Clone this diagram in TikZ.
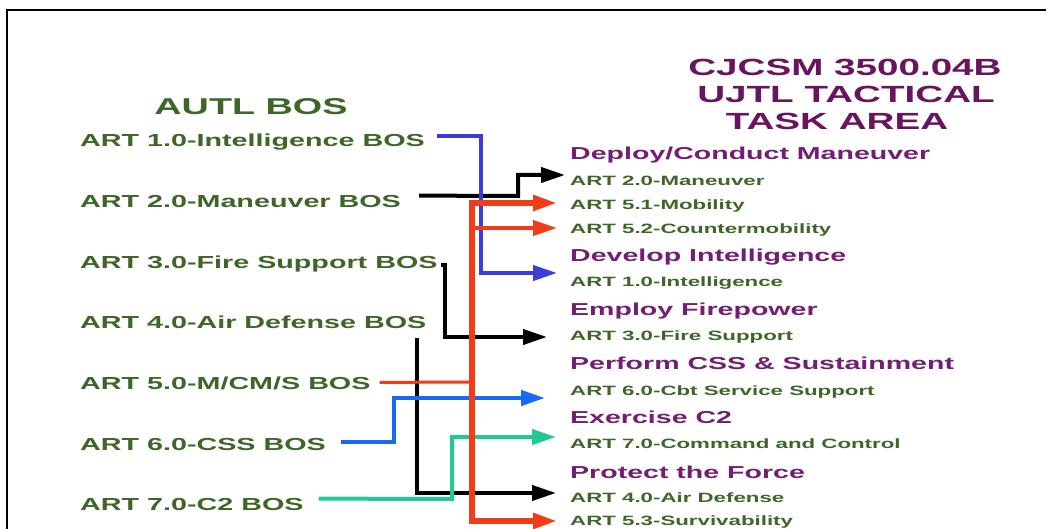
\documentclass[tikz,border=0pt]{standalone}
\usepackage{fontspec}
\usetikzlibrary{arrows.meta,calc}
\newfontfamily\wf{Liberation Sans}[FakeStretch=1.65]
\definecolor{txtgreen}{RGB}{62,102,40}
\definecolor{ttlpurple}{RGB}{105,20,95}
\definecolor{hdpurple}{RGB}{115,30,115}
\definecolor{lineblueA}{RGB}{60,60,215}
\definecolor{lineblueB}{RGB}{25,105,245}
\definecolor{lineteal}{RGB}{35,200,150}
\definecolor{linered}{RGB}{240,60,25}
\begin{document}
\begin{tikzpicture}[x=1pt,y=-1pt,
  lft/.style={inner sep=0pt,anchor=base west,text=txtgreen,font=\wf\bfseries\fontsize{17.4}{20}\selectfont},
  itm/.style={inner sep=0pt,anchor=base west,text=txtgreen,font=\wf\bfseries\fontsize{13.5}{16}\selectfont},
  hdg/.style={inner sep=0pt,anchor=base west,text=hdpurple,font=\wf\bfseries\fontsize{17.3}{20}\selectfont},
  ttl/.style={inner sep=0pt,anchor=base,text=ttlpurple,font=\wf\bfseries\fontsize{23.4}{27}\selectfont},
  tip/.style={-{Triangle[length=24pt,width=15pt]}},
  conn/.style={line cap=butt,line join=miter}]
\useasboundingbox (0,0) rectangle (1047,529);
\fill[white] (0,0) rectangle (1047,529);
% frame
\draw[line width=2.5pt] (7,529) -- (7,10) -- (1046,10);
% left column
\node[ttl,text=txtgreen,font=\wf\bfseries\fontsize{22.9}{26}\selectfont] (autl) at (251,115) {AUTL BOS};
\node[lft] (b1) at (80,147) {ART 1.0-Intelligence BOS};
\node[lft] (b2) at (80,207.6) {ART 2.0-Maneuver BOS};
\node[lft] (b3) at (80,268.2) {ART 3.0-Fire Support BOS};
\node[lft] (b4) at (80,328.8) {ART 4.0-Air Defense BOS};
\node[lft] (b5) at (80,389.4) {ART 5.0-M/CM/S BOS};
\node[lft] (b6) at (80,450) {ART 6.0-CSS BOS};
\node[lft] (b7) at (80,510.6) {ART 7.0-C2 BOS};
% right column titles
\node[ttl] (t1) at (845,76) {CJCSM 3500.04B};
\node[ttl] (t2) at (846,103) {UJTL TACTICAL};
\node[ttl] (t3) at (837,130) {TASK AREA};
% right column
\node[hdg] (h1) at (570,160) {Deploy/Conduct Maneuver};
\node[itm] (r1) at (570,186) {ART 2.0-Maneuver};
\node[itm] (r2) at (570,210) {ART 5.1-Mobility};
\node[itm] (r3) at (570,234) {ART 5.2-Countermobility};
\node[hdg] (h2) at (570,262) {Develop Intelligence};
\node[itm] (r4) at (570,286.5) {ART 1.0-Intelligence};
\node[hdg] (h3) at (570,315.7) {Employ Firepower};
\node[itm] (r5) at (570,340.7) {ART 3.0-Fire Support};
\node[hdg] (h4) at (570,370) {Perform CSS \& Sustainment};
\node[itm] (r6) at (570,395) {ART 6.0-Cbt Service Support};
\node[hdg] (h5) at (570,423) {Exercise C2};
\node[itm] (r7) at (570,448) {ART 7.0-Command and Control};
\node[hdg] (h6) at (570,478) {Protect the Force};
\node[itm] (r8) at (570,502) {ART 4.0-Air Defense};
\node[itm] (r9) at (570,525) {ART 5.3-Survivability};
% arrow tip coordinates
\coordinate (a2) at (565,175);
\coordinate (a51) at (557,203);
\coordinate (a52) at (557,228);
\coordinate (a1) at (557,273);
\coordinate (a3) at (547,337);
\coordinate (a6) at (545,398);
\coordinate (a7) at (556,437);
\coordinate (a4) at (556,493);
\coordinate (a53) at (557,521);
% connectors
\draw[conn,line width=4pt,tip] ([shift={(18,-12)}]b2.base east) -- (518,196) |- (a2);
\draw[conn,line width=4pt,tip] ([shift={(3,-3)}]b3.base east) -| (445,337) -- (a3);
\draw[conn,line width=4pt,tip] ([shift={(-10,9)}]b4.base east) |- (a4);
\draw[conn,line width=4pt,lineblueA,tip] ([shift={(12,-11)}]b1.base east) -| (481,273) -- (a1);
\draw[conn,line width=4.5pt,lineblueB,tip] ([shift={(15,-8)}]b6.base east) -- (394,442) |- (a6);
\draw[conn,line width=4pt,lineteal,tip] ([shift={(15,-12)}]b7.base east) -- (452,499) |- (a7);
\draw[conn,line width=3pt,linered] ([shift={(9,-7)}]b5.base east) -- (472,382);
\draw[conn,line width=4pt,linered,tip] (472,228) -- (a52);
\draw[conn,line width=5.5pt,linered,{Triangle[length=24pt,width=15pt]}-{Triangle[length=24pt,width=15pt]}] (a51) -| (472,521) -- (a53);
\end{tikzpicture}
\end{document}
